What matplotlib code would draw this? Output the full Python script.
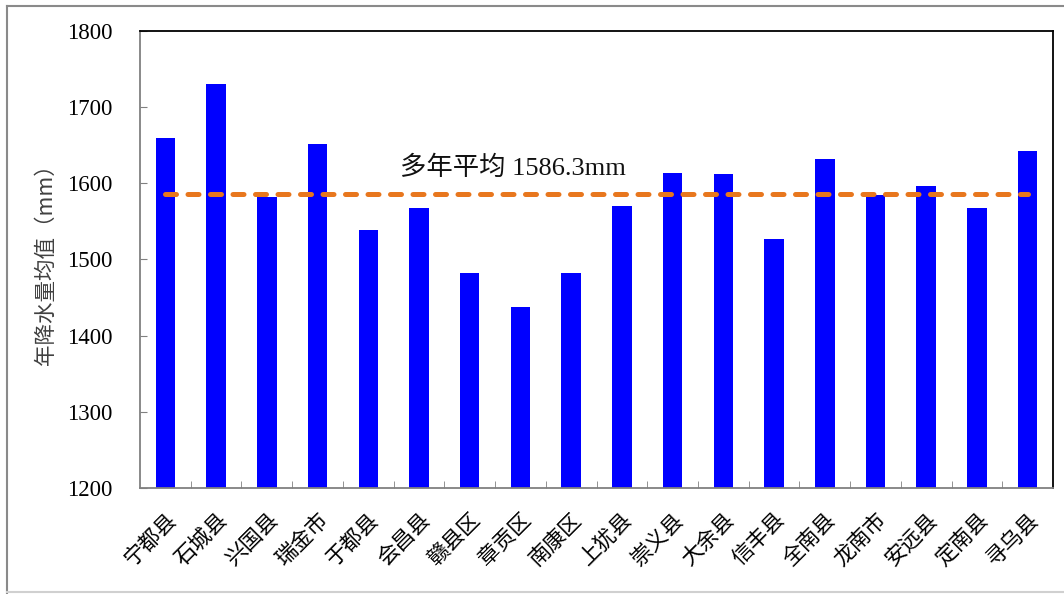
import matplotlib
matplotlib.use("Agg")
import matplotlib.pyplot as plt
from matplotlib.lines import Line2D

plt.rcParams['font.family'] = ['Liberation Serif', 'Noto Sans CJK SC', 'DejaVu Sans']

### Data
counties = ['宁都县', '石城县', '兴国县', '瑞金市', '于都县', '会昌县', '赣县区', '章贡区', '南康区',
            '上犹县', '崇义县', '大余县', '信丰县', '全南县', '龙南市', '安远县', '定南县', '寻乌县']
rainfall = [1660, 1730, 1582, 1652, 1539, 1567, 1482, 1438, 1482,
            1570, 1614, 1612, 1527, 1632, 1585, 1597, 1567, 1642]
mean_rain = 1586.3
y_ticks = [1200, 1300, 1400, 1500, 1600, 1700, 1800]

fig = plt.figure(figsize=(10.64, 5.94), dpi=100)
ax = fig.add_axes([0.1316, 0.1785, 0.8581, 0.7693])

x = list(range(len(counties)))
ax.bar(x, rainfall, width=0.385, color='#0000FF', zorder=2)
ax.plot(x, [mean_rain] * len(x), color='#E8771E', lw=3.6, dashes=(2.2, 2.3),
        dash_capstyle='round', zorder=3)
ax.text(4.63, 1620, '多年平均 1586.3mm', fontsize=19, va='center', ha='left', color='#111111')

ax.set_xlim(-0.5, len(counties) - 0.5)
ax.set_ylim(1200, 1800)
ax.set_yticks(y_ticks)
ax.set_xticks(x)
ax.set_xticklabels(counties, rotation=45, ha='right', va='top', rotation_mode='anchor',
                   fontsize=15.5, family=['Noto Sans CJK SC'])
ax.set_xticks([i + 0.5 for i in x[:-1]], minor=True)
ax.tick_params(axis='x', which='major', length=0, pad=15)
ax.tick_params(axis='x', which='minor', direction='in', length=5, color='#808080')
ax.tick_params(axis='y', direction='in', length=5, color='#808080', pad=20, labelsize=16.5)
ax.set_ylabel('年降水量均值（mm）', fontsize=15.5, color='#404040', family=['Noto Sans CJK SC'],
              labelpad=7)

ax.spines['left'].set_color('#808080')
ax.spines['bottom'].set_color('#808080')
ax.spines['top'].set_color('black')
ax.spines['right'].set_color('black')
for s in ax.spines.values():
  s.set_linewidth(1.3)

### outer frame
fig.add_artist(Line2D([7/1064, 7/1064], [1 - 6/594, 1 - 593/594], color='#8a8a8a', lw=1.5,
                      transform=fig.transFigure))
fig.add_artist(Line2D([7/1064, 1.0], [1 - 6/594, 1 - 6/594], color='#8a8a8a', lw=1.5,
                      transform=fig.transFigure))
fig.add_artist(Line2D([7/1064, 1.0], [1 - 592/594, 1 - 592/594], color='#d0d0d0', lw=1.5,
                      transform=fig.transFigure))

fig.savefig('out.png', dpi=100)
